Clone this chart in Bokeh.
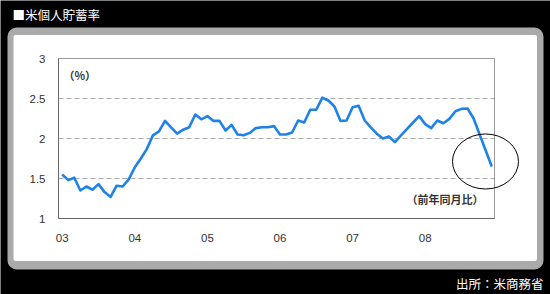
from bokeh.plotting import figure
from bokeh.models import Range1d, FixedTicker, Label
from bokeh.embed import file_html
from bokeh.resources import INLINE

# ---------------- data ----------------
title_text = "■米個人貯蓄率"
source_text = "出所：米商務省"
unit_text = "（%）"
note_text = "（前年同月比）"

start_year = 2003
year_ticks = [2003, 2004, 2005, 2006, 2007, 2008]
year_labels = ["03", "04", "05", "06", "07", "08"]
y_ticks = [1, 1.5, 2, 2.5, 3]
y_labels = ["1", "1.5", "2", "2.5", "3"]
grid_values = [1.5, 2, 2.5]

# monthly values, Jan 2003 - Dec 2008
rate = [
    1.55, 1.48, 1.51, 1.35, 1.40, 1.36, 1.43, 1.33, 1.27, 1.41, 1.40, 1.49,
    1.64, 1.75, 1.87, 2.04, 2.09, 2.22, 2.14, 2.06, 2.11, 2.14, 2.30, 2.24,
    2.28, 2.22, 2.22, 2.10, 2.17, 2.05, 2.04, 2.07, 2.13, 2.14, 2.14, 2.155,
    2.05, 2.05, 2.075, 2.225, 2.20, 2.36, 2.36, 2.51, 2.475, 2.40, 2.22, 2.225,
    2.39, 2.41, 2.225, 2.14, 2.06, 2.00, 2.025, 1.955, 2.04, 2.12, 2.20, 2.28,
    2.18, 2.13, 2.225, 2.19, 2.245, 2.34, 2.37, 2.375, 2.25, 2.05, 1.85, 1.65,
]
months = [start_year + i / 12 for i in range(len(rate))]

# ---------------- geometry (canvas pixels -> data) ----------------
W, H = 550, 294
PX_YEAR, X_ORIGIN = 72.6, 61.7      # canvas x of Jan 2003, pixels per year
PX_UNIT, Y_ORIGIN = 80.0, 218.0     # canvas y of value 1, pixels per unit
Y_MIN, Y_MAX = y_ticks[0], y_ticks[-1]


def dx(cx):
    return start_year + (cx - X_ORIGIN) / PX_YEAR


def dy(cy):
    return Y_MIN + (Y_ORIGIN - cy) / PX_UNIT


PL, PR = dx(58), dx(494)             # plot box left/right in data

p = figure(width=W, height=H, x_range=Range1d(dx(0), dx(W)), y_range=Range1d(dy(H), dy(0)),
           output_backend="svg", toolbar_location=None,
           min_border=0, min_border_left=0, min_border_right=0,
           min_border_top=0, min_border_bottom=0)
p.title.visible = False
p.background_fill_color = "black"
p.border_fill_color = "black"
p.outline_line_color = None
p.xgrid.visible = False
p.ygrid.visible = False

# grey rounded panel and white interior
p.quad(left=[dx(7)], right=[dx(543)], top=[dy(27)], bottom=[dy(269)],
       fill_color="#aaaaaa", line_color=None, border_radius=9)
p.quad(left=[dx(13)], right=[dx(536.5)], top=[dy(34.5)], bottom=[dy(260.5)],
       fill_color="white", line_color=None, border_radius=2)

# dashed horizontal grid lines
p.segment(x0=[PL] * len(grid_values), x1=[PR] * len(grid_values),
          y0=grid_values, y1=grid_values,
          line_color="#aaaaaa", line_dash="5 3", line_width=1)

# plot box
p.quad(left=[PL], right=[PR], top=[Y_MAX], bottom=[Y_MIN],
       fill_color=None, line_color="#999999", line_width=1)

# series
p.line(months, rate, line_color="#1e82e6", line_width=2.6, line_join="round")

# circle highlighting the latest drop
p.ellipse(x=[dx(485)], y=[dy(161)], width=[66 / PX_YEAR], height=[55 / PX_UNIT],
          fill_color=None, line_color="black", line_width=1)

TICK_FONT = "Liberation Sans"
CJK = "Noto Sans CJK JP"

p.xaxis.fixed_location = Y_MIN
p.xaxis.bounds = (PL, PR)
p.yaxis.fixed_location = PL
p.yaxis.bounds = (Y_MIN, Y_MAX)

for ax in (p.xaxis, p.yaxis):
    ax.major_tick_line_color = None
    ax.minor_tick_line_color = None
    ax.major_tick_out = 0
    ax.major_tick_in = 0
    ax.axis_line_color = "#666666"
    ax.axis_line_width = 1
    ax.major_label_text_font = TICK_FONT
    ax.major_label_text_font_size = "11.5px"
    ax.major_label_text_color = "#333333"

p.xaxis.ticker = FixedTicker(ticks=year_ticks)
p.xaxis.major_label_overrides = dict(zip(year_ticks, year_labels))
p.xaxis.major_label_standoff = 15
p.yaxis.ticker = FixedTicker(ticks=y_ticks)
p.yaxis.major_label_overrides = dict(zip(y_ticks, y_labels))
p.yaxis.major_label_standoff = 13

p.add_layout(Label(x=dx(12), y=dy(14), text=title_text, text_color="white",
                   text_font=CJK, text_font_size="12.5px",
                   text_baseline="middle", text_align="left"))
p.add_layout(Label(x=dx(543), y=dy(283), text=source_text, text_color="white",
                   text_font=CJK, text_font_size="12.5px",
                   text_baseline="middle", text_align="right"))
p.add_layout(Label(x=dx(63), y=dy(74), text=unit_text, text_color="#333333",
                   text_font=CJK, text_font_size="11px", text_font_style="bold",
                   text_baseline="middle", text_align="left"))
p.add_layout(Label(x=dx(483), y=dy(198), text=note_text, text_color="#333333",
                   text_font=CJK, text_font_size="11px", text_font_style="bold",
                   text_baseline="middle", text_align="right"))

open("out.html", "w").write(file_html(p, INLINE))
